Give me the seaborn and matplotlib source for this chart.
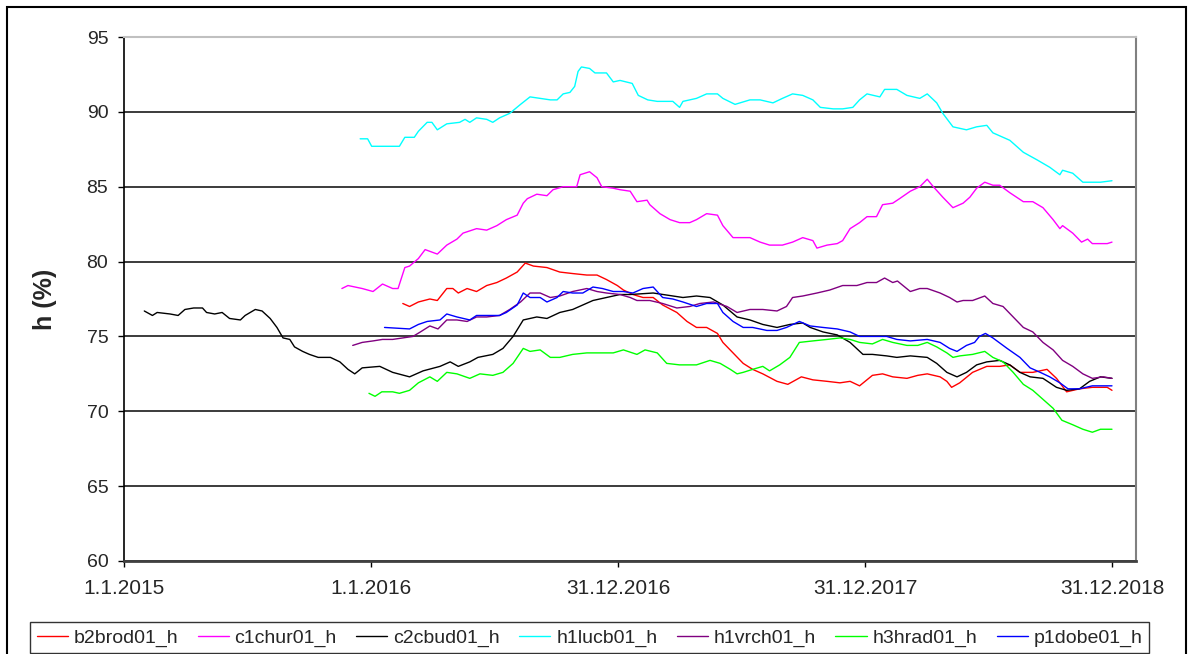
import pandas as pd
import seaborn as sns
import matplotlib.pyplot as plt
from matplotlib.patches import Rectangle

# dny od 1.1.2015 a hodnoty vlhkosti h (%)
b2brod_den = [412, 422, 435, 452, 463, 477, 486, 494, 507, 521, 536, 551, 565,
              581, 593, 605, 625, 644, 663, 684, 699, 713, 729, 738, 752, 767, 782, 796,
              817, 832, 846, 861, 877, 885, 900, 915, 929, 944, 965, 981, 1001, 1018,
              1039, 1058, 1073, 1087, 1106, 1121, 1136, 1157, 1173, 1187, 1206, 1216,
              1223, 1235, 1254, 1275, 1294, 1309, 1324, 1343, 1364, 1378, 1393, 1412,
              1431, 1453, 1460]
b2brod_h = [77.2, 77.0, 77.3, 77.5, 77.4, 78.2, 78.2, 77.9, 78.2, 78.0, 78.4, 78.6, 78.9,
            79.3, 79.9, 79.7, 79.6, 79.3, 79.2, 79.1, 79.1, 78.8, 78.4, 78.1, 77.8, 77.6,
            77.6, 77.1, 76.6, 76.0, 75.6, 75.6, 75.2, 74.6, 73.9, 73.2, 72.8, 72.5, 72.0,
            71.8, 72.3, 72.1, 72.0, 71.9, 72.0, 71.7, 72.4, 72.5, 72.3, 72.2, 72.4, 72.5,
            72.3, 72.0, 71.6, 71.9, 72.6, 73.0, 73.0, 73.1, 72.6, 72.6, 72.8, 72.2, 71.3,
            71.5, 71.6, 71.6, 71.4]

c1chur_den = [322, 331, 352, 368, 382, 397, 405, 415, 422, 435, 445, 463, 477, 492, 501,
              521, 536, 551, 565, 581, 590, 596, 610, 625, 634, 649, 669, 674, 688, 699,
              706, 723, 733, 748, 758, 773, 777, 792, 807, 821, 836, 846, 861, 877, 885,
              900, 906, 925, 940, 954, 973, 988, 1003, 1018, 1024, 1039, 1054, 1062, 1073,
              1087, 1098, 1112, 1121, 1136, 1146, 1162, 1176, 1187, 1196, 1210, 1225, 1240,
              1250, 1260, 1272, 1284, 1294, 1309, 1329, 1343, 1358, 1373, 1383, 1387, 1402,
              1415, 1424, 1431, 1453, 1460]
c1chur_h = [78.2, 78.4, 78.2, 78.0, 78.5, 78.2, 78.2, 79.6, 79.7, 80.2, 80.8, 80.5, 81.1,
            81.5, 81.9, 82.2, 82.1, 82.4, 82.8, 83.1, 83.9, 84.2, 84.5, 84.4, 84.8, 85.0,
            85.0, 85.8, 86.0, 85.6, 85.0, 84.9, 84.8, 84.7, 84.0, 84.1, 83.8, 83.2, 82.8,
            82.6, 82.6, 82.8, 83.2, 83.1, 82.4, 81.6, 81.6, 81.6, 81.3, 81.1, 81.1, 81.3,
            81.6, 81.4, 80.9, 81.1, 81.2, 81.4, 82.2, 82.6, 83.0, 83.0, 83.8, 83.9, 84.2,
            84.7, 85.0, 85.5, 85.0, 84.3, 83.6, 83.9, 84.3, 84.9, 85.3, 85.1, 85.1, 84.6,
            84.0, 84.0, 83.6, 82.8, 82.2, 82.4, 81.9, 81.3, 81.5, 81.2, 81.2, 81.3]

c2cbud_den = [30, 42, 49, 68, 80, 90, 103, 116, 122, 134, 145, 156, 172, 179, 194, 204,
              216, 226, 235, 245, 252, 264, 274, 287, 305, 319, 331, 341, 352, 378, 397,
              422, 442, 467, 482, 494, 511, 523, 545, 560, 575, 590, 610, 625, 644, 663,
              693, 713, 733, 748, 782, 826, 846, 866, 885, 906, 925, 944, 965, 984, 1003,
              1014, 1033, 1054, 1073, 1092, 1106, 1127, 1142, 1162, 1187, 1201, 1216, 1231,
              1245, 1260, 1275, 1294, 1309, 1324, 1339, 1358, 1378, 1393, 1412, 1427, 1443,
              1460]
c2cbud_h = [76.7, 76.4, 76.6, 76.5, 76.4, 76.8, 76.9, 76.9, 76.6, 76.5, 76.6, 76.2, 76.1,
            76.4, 76.8, 76.7, 76.2, 75.6, 74.9, 74.8, 74.3, 74.0, 73.8, 73.6, 73.6, 73.3,
            72.8, 72.5, 72.9, 73.0, 72.6, 72.3, 72.7, 73.0, 73.3, 73.0, 73.3, 73.6, 73.8,
            74.2, 75.0, 76.1, 76.3, 76.2, 76.6, 76.8, 77.4, 77.6, 77.8, 77.8, 77.9, 77.6,
            77.7, 77.6, 77.1, 76.3, 76.1, 75.8, 75.6, 75.8, 75.9, 75.6, 75.3, 75.1, 74.6,
            73.8, 73.8, 73.7, 73.6, 73.7, 73.6, 73.2, 72.6, 72.3, 72.6, 73.1, 73.3, 73.4,
            73.1, 72.6, 72.3, 72.2, 71.6, 71.4, 71.5, 72.0, 72.3, 72.2]

h1lucb_den = [349, 360, 366, 378, 407, 415, 429, 435, 448, 455, 463, 477, 496, 504, 511,
              521, 536, 545, 555, 570, 586, 600, 615, 630, 640, 649, 659, 666, 671, 676,
              688, 696, 713, 723, 733, 751, 760, 774, 788, 811, 821, 826, 846, 861, 877,
              885, 903, 925, 940, 959, 973, 988, 1003, 1018, 1029, 1048, 1062, 1077, 1087,
              1098, 1117, 1124, 1142, 1157, 1176, 1187, 1201, 1210, 1225, 1245, 1260, 1275,
              1284, 1309, 1329, 1349, 1368, 1383, 1387, 1402, 1417, 1443, 1460]
h1lucb_h = [88.2, 88.2, 87.7, 87.7, 87.7, 88.3, 88.3, 88.7, 89.3, 89.3, 88.8, 89.2, 89.3,
            89.5, 89.3, 89.6, 89.5, 89.3, 89.6, 89.9, 90.5, 91.0, 90.9, 90.8, 90.8, 91.2,
            91.3, 91.7, 92.7, 93.0, 92.9, 92.6, 92.6, 92.0, 92.1, 91.9, 91.1, 90.8, 90.7,
            90.7, 90.3, 90.7, 90.9, 91.2, 91.2, 90.9, 90.5, 90.8, 90.8, 90.6, 90.9, 91.2,
            91.1, 90.8, 90.3, 90.2, 90.2, 90.3, 90.8, 91.2, 91.0, 91.5, 91.5, 91.1, 90.9,
            91.2, 90.6, 89.9, 89.0, 88.8, 89.0, 89.1, 88.6, 88.1, 87.3, 86.8, 86.3, 85.8,
            86.1, 85.9, 85.3, 85.3, 85.4]

h1vrch_den = [338, 352, 368, 382, 397, 412, 427, 438, 452, 464, 477, 492, 507, 521, 536,
              555, 570, 586, 600, 615, 630, 644, 663, 684, 699, 713, 733, 748, 758, 777,
              796, 817, 836, 851, 871, 891, 906, 925, 944, 965, 979, 988, 1003, 1024, 1043,
              1062, 1083, 1098, 1112, 1124, 1136, 1143, 1162, 1176, 1187, 1206, 1220, 1231,
              1240, 1254, 1272, 1284, 1299, 1314, 1329, 1343, 1358, 1373, 1387, 1402, 1417,
              1431, 1447, 1460]
h1vrch_h = [74.4, 74.6, 74.7, 74.8, 74.8, 74.9, 75.0, 75.3, 75.7, 75.5, 76.1, 76.1, 76.0,
            76.3, 76.3, 76.4, 76.8, 77.3, 77.9, 77.9, 77.6, 77.7, 78.0, 78.2, 78.0, 77.9,
            77.8, 77.6, 77.4, 77.4, 77.2, 76.9, 77.0, 77.2, 77.3, 77.0, 76.6, 76.8, 76.8,
            76.7, 77.0, 77.6, 77.7, 77.9, 78.1, 78.4, 78.4, 78.6, 78.6, 78.9, 78.6, 78.7,
            78.0, 78.2, 78.2, 77.9, 77.6, 77.3, 77.4, 77.4, 77.7, 77.2, 77.0, 76.3, 75.6,
            75.3, 74.6, 74.1, 73.4, 73.0, 72.5, 72.2, 72.3, 72.2]

h3hrad_den = [362, 371, 381, 397, 407, 422, 435, 452, 463, 477, 492, 511, 526, 545, 560,
              575, 590, 600, 615, 630, 644, 663, 684, 703, 723, 738, 758, 770, 788, 802,
              821, 846, 866, 881, 896, 906, 915, 929, 944, 954, 969, 984, 998, 1018, 1039,
              1058, 1073, 1087, 1106, 1121, 1136, 1157, 1173, 1187, 1201, 1216, 1225, 1235,
              1254, 1272, 1284, 1299, 1314, 1329, 1343, 1358, 1373, 1386, 1402, 1417, 1431,
              1443, 1460]
h3hrad_h = [71.2, 71.0, 71.3, 71.3, 71.2, 71.4, 71.9, 72.3, 72.0, 72.6, 72.5, 72.2, 72.5,
            72.4, 72.6, 73.2, 74.2, 74.0, 74.1, 73.6, 73.6, 73.8, 73.9, 73.9, 73.9, 74.1,
            73.8, 74.1, 73.9, 73.2, 73.1, 73.1, 73.4, 73.2, 72.8, 72.5, 72.6, 72.8, 73.0,
            72.7, 73.1, 73.6, 74.6, 74.7, 74.8, 74.9, 74.8, 74.6, 74.5, 74.8, 74.6, 74.4,
            74.4, 74.6, 74.3, 73.9, 73.6, 73.7, 73.8, 74.0, 73.6, 73.3, 72.6, 71.8, 71.4,
            70.8, 70.2, 69.4, 69.1, 68.8, 68.6, 68.8, 68.8]

p1dobe_den = [385, 422, 435, 448, 467, 477, 492, 511, 521, 536, 555, 565, 581, 590, 600,
              615, 625, 640, 649, 663, 678, 693, 707, 723, 738, 752, 767, 782, 796, 811,
              826, 846, 861, 877, 885, 900, 915, 929, 950, 965, 979, 998, 1014, 1033, 1054,
              1073, 1087, 1106, 1127, 1142, 1162, 1187, 1206, 1220, 1231, 1245, 1257, 1264,
              1273, 1284, 1305, 1324, 1339, 1354, 1368, 1383, 1395, 1412, 1431, 1453, 1460]
p1dobe_h = [75.6, 75.5, 75.8, 76.0, 76.1, 76.5, 76.3, 76.1, 76.4, 76.4, 76.4, 76.6, 77.1,
            77.9, 77.6, 77.6, 77.3, 77.6, 78.0, 77.9, 77.9, 78.3, 78.2, 78.0, 78.0, 77.9,
            78.2, 78.3, 77.6, 77.5, 77.3, 77.0, 77.2, 77.2, 76.6, 76.0, 75.6, 75.6, 75.4,
            75.4, 75.6, 76.0, 75.7, 75.6, 75.5, 75.3, 75.0, 75.0, 75.0, 74.8, 74.7, 74.8,
            74.6, 74.2, 74.0, 74.4, 74.6, 75.0, 75.2, 74.9, 74.2, 73.6, 72.9, 72.6, 72.3,
            71.9, 71.5, 71.5, 71.7, 71.7, 71.7]

stanice = ['b2brod01_h', 'c1chur01_h', 'c2cbud01_h', 'h1lucb01_h',
           'h1vrch01_h', 'h3hrad01_h', 'p1dobe01_h']
dny = [b2brod_den, c1chur_den, c2cbud_den, h1lucb_den, h1vrch_den, h3hrad_den, p1dobe_den]
hodnoty = [b2brod_h, c1chur_h, c2cbud_h, h1lucb_h, h1vrch_h, h3hrad_h, p1dobe_h]
barvy = ['#ff0000', '#ff00ff', '#000000', '#00ffff', '#800080', '#00ff00', '#0000ff']

tick_datumy = ['2015-01-01', '2016-01-01', '2016-12-31', '2017-12-31', '2018-12-31']
tick_popisky = ['1.1.2015', '1.1.2016', '31.12.2016', '31.12.2017', '31.12.2018']

# dlouhy format pro seaborn
start = pd.Timestamp('2015-01-01')
frames = []
for s, d, v in zip(stanice, dny, hodnoty):
    frames.append(pd.DataFrame({'datum': start + pd.to_timedelta(d, unit='D'),
                                'h': v, 'stanice': s}))
data = pd.concat(frames, ignore_index=True)

sns.set_style('white')
plt.rcParams['font.family'] = ['Liberation Sans', 'DejaVu Sans']

fig = plt.figure(figsize=(11.94, 6.54), dpi=100)
ax = fig.add_axes([124 / 1194, 1 - 561 / 654, 1012 / 1194, 524 / 654])

sns.lineplot(data=data, x='datum', y='h', hue='stanice', hue_order=stanice,
             palette=dict(zip(stanice, barvy)), estimator=None, linewidth=1.0, ax=ax)

ax.set_ylim(60, 95)
ax.set_yticks(range(60, 96, 5))
ax.set_xlim(start, start + pd.Timedelta(days=1495.5))
ax.set_xticks(pd.to_datetime(tick_datumy))
ax.set_xticklabels(tick_popisky)
ax.set_xlabel('')
ax.set_ylabel('h (%)', fontsize=18, fontweight='bold')
ax.yaxis.set_label_coords(-0.066, 0.5)

ax.tick_params(axis='y', direction='out', length=4.3, width=1, color='black',
               labelsize=14, pad=7, left=True)
ax.tick_params(axis='x', direction='out', length=4.3, width=1, color='black',
               labelsize=15, pad=9, bottom=True)

ax.yaxis.grid(True, color='#1a1a1a', linewidth=1.2)
ax.get_ygridlines()[-1].set_color('#c0c0c0')
ax.spines['left'].set_color('black')
ax.spines['left'].set_linewidth(1.2)
ax.spines['bottom'].set_color('#404040')
ax.spines['bottom'].set_linewidth(2)
ax.spines['top'].set_color('#c0c0c0')
ax.spines['top'].set_linewidth(1.5)
ax.spines['right'].set_color('#808080')
ax.spines['right'].set_linewidth(1.5)

sns.move_legend(ax, loc='upper center', bbox_to_anchor=((589.5 - 124) / 1012, (561 - 622) / 524),
                ncol=7, title=None, frameon=True, fontsize=14, handlelength=1.6,
                handletextpad=0.3, columnspacing=1.0, fancybox=False, borderpad=0.35,
                borderaxespad=0)
leg = ax.get_legend()
leg.get_frame().set_edgecolor('black')
leg.get_frame().set_linewidth(1.0)
for line in leg.get_lines():
    line.set_linewidth(1.0)

# ramecek kolem celeho grafu
fig.add_artist(Rectangle((7 / 1194, -0.1), 1179 / 1194, 1.1 - 7 / 654, transform=fig.transFigure,
                         fill=False, edgecolor='black', linewidth=1.5, clip_on=False))

fig.savefig('out.png', dpi=100)
